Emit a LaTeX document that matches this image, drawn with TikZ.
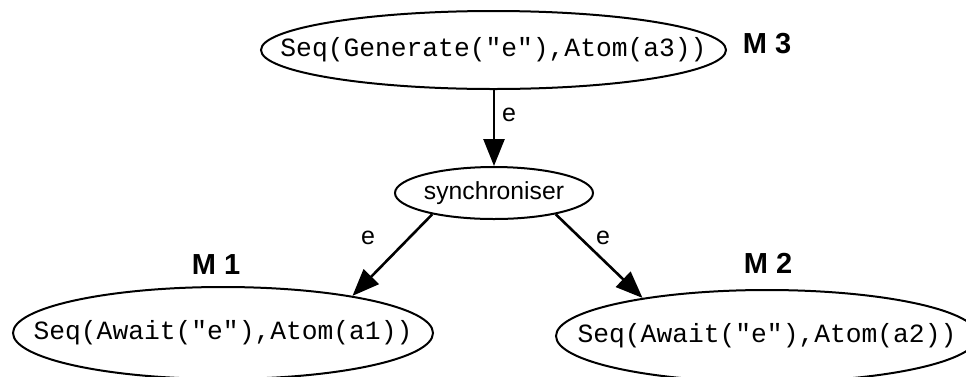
\documentclass[tikz,border=0pt]{standalone}
\usepackage{fontspec}
\setmainfont{Liberation Sans}
\newfontfamily\monof{Liberation Mono}
\usetikzlibrary{shapes.geometric,arrows.meta}
\tikzset{
  procnode/.style={draw, ellipse, line width=2pt, inner sep=0pt,
    font=\monof\fontsize{26.3}{30}\selectfont},
  syncnode/.style={draw, ellipse, line width=2pt, inner sep=0pt,
    font=\fontsize{24.7}{28}\selectfont},
  edge/.style={line width=2.6pt, -{Triangle[length=27pt,width=21pt]}},
  elabel/.style={font=\fontsize{25}{28}\selectfont, inner sep=0pt},
  mlabel/.style={font=\bfseries\fontsize{29}{32}\selectfont, inner sep=0pt}
}
\begin{document}
\begin{tikzpicture}[x=1pt,y=-1pt]
\useasboundingbox (0,0) rectangle (966,376);
\clip (0,0) rectangle (966,376);
\node[procnode, minimum width=465pt, minimum height=78pt] (m3) at (493.5,50) {\makebox[0pt]{Seq(Generate("e"),Atom(a3))}};
\node[syncnode, minimum width=198pt, minimum height=52pt] (sync) at (494,193) {\makebox[0pt]{synchroniser}};
\node[procnode, minimum width=420pt, minimum height=92pt] (m1) at (223,333) {\makebox[0pt]{Seq(Await("e"),Atom(a1))}};
\node[procnode, minimum width=422pt, minimum height=92pt] (m2) at (767,336) {\makebox[0pt]{Seq(Await("e"),Atom(a2))}};
\node[mlabel] (l3) at (767,44) {M 3};
\node[mlabel] (l1) at (216,265) {M 1};
\node[mlabel] (l2) at (768,263) {M 2};
\draw[edge] (m3.south -| sync.north) -- (sync.north);
\draw[edge] (sync.199) -- (m1.16);
\draw[edge] (sync.341) -- (m2.163);
\node[elabel] (e1) at (509,115) {e};
\node[elabel] (e2) at (368,238) {e};
\node[elabel] (e3) at (603,238) {e};
\end{tikzpicture}
\end{document}
